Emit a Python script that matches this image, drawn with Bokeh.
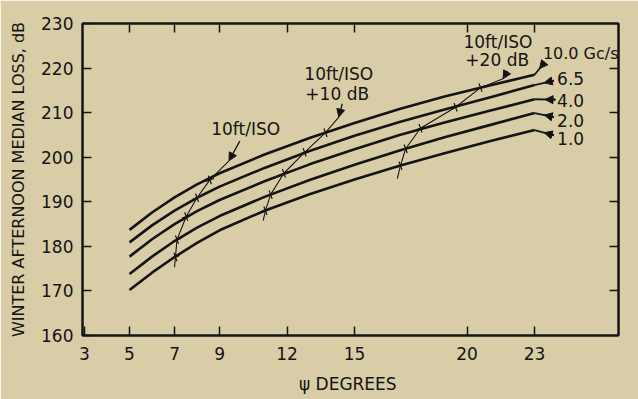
from bokeh.plotting import figure
from bokeh.models import Range1d, FixedTicker, LinearAxis, Label, Arrow, NormalHead
from bokeh.embed import file_html
from bokeh.resources import INLINE

BG = "#d9cda7"
INK = "#141414"
FONT = "DejaVu Sans"

# ---- data ----
psi = [5, 6, 7, 8, 9, 11, 13, 15, 17, 19, 21, 23]
loss_10_0 = [183.7, 187.6, 191.0, 193.9, 196.4, 200.6, 204.3, 207.7, 210.8, 213.6, 216.1, 218.5]
loss_6_5 = [180.9, 184.7, 188.0, 190.9, 193.4, 197.6, 201.4, 204.8, 207.9, 210.7, 213.4, 216.2]
loss_4_0 = [177.7, 181.6, 185.0, 187.9, 190.4, 194.6, 198.4, 201.8, 205.0, 207.8, 210.4, 213.0]
loss_2_0 = [173.8, 177.7, 181.2, 184.2, 186.8, 191.1, 194.9, 198.3, 201.5, 204.5, 207.2, 209.9]
loss_1_0 = [170.2, 174.1, 177.6, 180.8, 183.6, 188.0, 191.7, 195.0, 198.1, 200.9, 203.6, 206.1]
series = [loss_10_0, loss_6_5, loss_4_0, loss_2_0, loss_1_0]
freq_labels = ["10.0 Gc/s", "6.5", "4.0", "2.0", "1.0"]
freq_label_sizes = ["16px", "17px", "17px", "17px", "17px"]

# leader line ends (label side) and label anchors
leader_psi = [23.45, 23.86, 23.93, 23.86, 23.86]
leader_loss = [221.3, 217.2, 212.9, 209.0, 204.9]
freq_label_psi = [23.37, 24.0, 24.0, 24.0, 24.0]
freq_label_loss = [223.2, 217.6, 212.7, 208.2, 204.1]

# 10ft/ISO curves (thin lines with cross marks)
iso_psi = [
    [7.0, 7.04, 7.11, 7.52, 8.0, 8.57, 9.42],
    [10.94, 11.04, 11.27, 11.86, 12.78, 13.71, 14.3],
    [16.9, 17.04, 17.27, 17.93, 19.49, 20.6, 21.6],
]
iso_loss = [
    [175.3, 177.6, 181.5, 186.7, 190.9, 194.9, 199.2],
    [185.8, 188.0, 191.6, 196.4, 201.1, 205.5, 209.0],
    [195.2, 198.1, 201.9, 206.5, 211.2, 215.6, 217.6],
]
iso_arrow_start = [(9.9, 203.6), (14.45, 212.0), (21.8, 219.3)]
iso_texts = [("10ft/ISO", 10.16, 206.4), ("10ft/ISO", 14.3, 218.7), ("+10 dB", 14.23, 214.2),
             ("10ft/ISO", 21.37, 225.8), ("+20 dB", 21.34, 221.7)]

x_ticks = [3, 5, 7, 9, 12, 15, 20, 23]
x_ticks_top = [5, 7, 9, 12, 15, 20, 23]
y_ticks = [160, 170, 180, 190, 200, 210, 220, 230]

p = figure(width=638, height=399, x_range=Range1d(2.91, 26.73), y_range=Range1d(160, 230),
           output_backend="svg", toolbar_location=None,
           min_border_left=82, min_border_right=20, min_border_top=23, min_border_bottom=64)
p.background_fill_color = BG
p.border_fill_color = BG
p.outline_line_color = INK
p.outline_line_width = 2
p.grid.visible = False

def style_axis(ax, labels=True):
    ax.axis_line_color = INK
    ax.axis_line_width = 2
    ax.major_tick_in = 9
    ax.major_tick_out = 0
    ax.major_tick_line_color = INK
    ax.major_tick_line_width = 1.5
    ax.minor_tick_line_color = None
    ax.major_label_text_font = FONT
    if labels:
        ax.major_label_text_color = INK
        ax.major_label_text_font_size = "17px"
    else:
        ax.major_label_text_color = None
        ax.major_label_text_font_size = "9px"
    ax.axis_label_text_font = FONT
    ax.axis_label_text_font_style = "normal"
    ax.axis_label_text_color = INK

xa = p.xaxis[0]
xa.ticker = FixedTicker(ticks=x_ticks)
style_axis(xa)
xa.major_label_standoff = 11
xa.axis_label = "ψ  DEGREES"
xa.axis_label_text_font_size = "17px"
xa.axis_label_standoff = 11

ya = p.yaxis[0]
ya.ticker = FixedTicker(ticks=y_ticks)
style_axis(ya)
ya.major_label_standoff = 9
ya.axis_label = "WINTER AFTERNOON MEDIAN LOSS, dB"
ya.axis_label_text_font_size = "16px"
ya.axis_label_standoff = 10

top = LinearAxis(ticker=FixedTicker(ticks=x_ticks_top))
style_axis(top, labels=False)
top.major_label_standoff = 0
p.add_layout(top, "above")

right = LinearAxis(ticker=FixedTicker(ticks=y_ticks[1:-1]))
style_axis(right, labels=False)
right.major_label_standoff = 0
p.add_layout(right, "right")

# main curves
for s in series:
    p.line(psi, s, line_color=INK, line_width=2.6, line_join="round")

# leaders to frequency labels
for s, lx, ly, txt, tx, ty, fs in zip(series, leader_psi, leader_loss, freq_labels,
                                      freq_label_psi, freq_label_loss, freq_label_sizes):
    p.segment(x0=[psi[-1]], y0=[s[-1]], x1=[lx], y1=[ly], line_color=INK, line_width=1.8)
    mx = lx + 0.5 * (psi[-1] - lx)
    my = ly + 0.5 * (s[-1] - ly)
    p.add_layout(Arrow(end=NormalHead(size=8, fill_color=INK, line_color=INK, line_width=1),
                       x_start=lx, y_start=ly, x_end=mx, y_end=my,
                       line_color=INK, line_width=1.8))
    p.add_layout(Label(x=tx, y=ty, text=txt, text_font=FONT, text_font_size=fs,
                       text_color=INK, text_baseline="middle", text_align="left"))

# ISO curves
for xs, ys, (ax0, ay0) in zip(iso_psi, iso_loss, iso_arrow_start):
    p.line(xs, ys, line_color=INK, line_width=1.1)
    p.scatter(xs[1:-1], ys[1:-1], marker="cross", size=9, line_color=INK, line_width=1.2, angle=0.35)
    p.add_layout(Arrow(end=NormalHead(size=8, fill_color=INK, line_color=INK, line_width=1),
                       x_start=ax0, y_start=ay0, x_end=xs[-1], y_end=ys[-1],
                       line_color=INK, line_width=1.3))

for txt, tx, ty in iso_texts:
    p.add_layout(Label(x=tx, y=ty, text=txt, text_font=FONT, text_font_size="17px",
                       text_color=INK, text_baseline="middle", text_align="center"))

html = file_html(p, INLINE).replace("<body>", '<body style="background-color:%s;">' % BG, 1)
open("out.html", "w").write(html)
